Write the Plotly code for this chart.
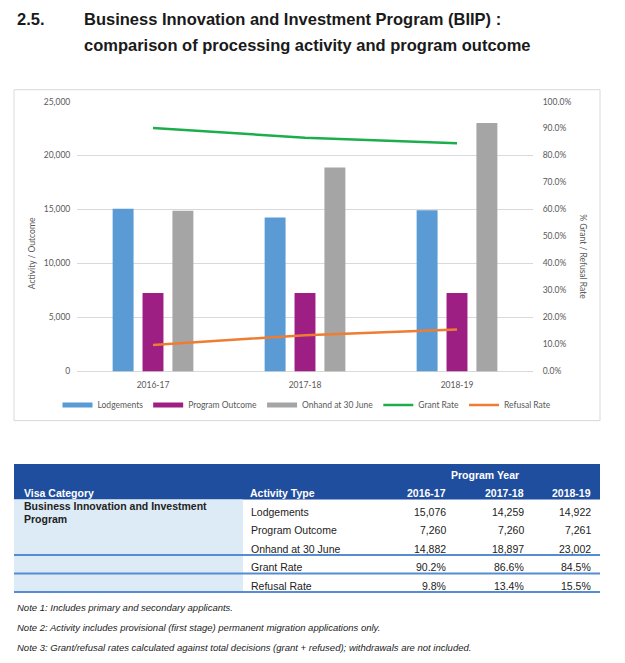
import plotly.graph_objects as go

W, H = 625, 663

# ---------------- data ----------------
years = ["2016-17", "2017-18", "2018-19"]
lodgements = [15076, 14259, 14922]
program_outcome = [7260, 7260, 7261]
onhand_30_june = [14882, 18897, 23002]
grant_rate = [90.2, 86.6, 84.5]
refusal_rate = [9.8, 13.4, 15.5]

bar_names = ["Lodgements", "Program Outcome", "Onhand at 30 June"]
line_names = ["Grant Rate", "Refusal Rate"]
left_ticks = [0, 5000, 10000, 15000, 20000, 25000]
right_ticks = [0, 10, 20, 30, 40, 50, 60, 70, 80, 90, 100]

visa_category = ["Business Innovation and Investment", "Program"]
activity_types = ["Lodgements", "Program Outcome", "Onhand at 30 June", "Grant Rate", "Refusal Rate"]
notes = [
    "Note 1: Includes primary and secondary applicants.",
    "Note 2: Activity includes provisional (first stage) permanent migration applications only.",
    "Note 3: Grant/refusal rates calculated against total decisions (grant + refused); withdrawals are not included.",
]
title_num = "2.5."
title_lines = ["Business Innovation and Investment Program (BIIP) :",
               "comparison of processing activity and program outcome"]

# ---------------- style ----------------
bar_colors = ["#5B9BD5", "#9E1F84", "#A5A5A5"]
line_colors = ["#1DAE4C", "#ED7D31"]
axis_font = dict(family="Lato", size=8.5, color="#595959")
grid_col = "#D9D9D9"
hdr_blue = "#1F4E9E"
rule_blue = "#548DD4"
cell_blue = "#DDEBF7"


def px(x):
    return x / W


def py(y):
    return 1 - y / H


fig = go.Figure()
bar_values = [lodgements, program_outcome, onhand_30_june]
for name, vals, col in zip(bar_names, bar_values, bar_colors):
    fig.add_trace(go.Bar(x=years, y=vals, name=name, marker_color=col,
                         marker_line_width=0, showlegend=False, yaxis="y"))
# legend keys (thick lines like the Excel legend)
for name, col in zip(bar_names, bar_colors):
    fig.add_trace(go.Scatter(x=[None], y=[None], mode="lines", name=name,
                             line=dict(color=col, width=5), yaxis="y"))
for name, vals, col in zip(line_names, [grant_rate, refusal_rate], line_colors):
    fig.add_trace(go.Scatter(x=years, y=vals, name=name, mode="lines",
                             line=dict(color=col, width=2.5), yaxis="y2"))

shapes = []
annotations = []

# chart frame
shapes.append(dict(type="rect", xref="paper", yref="paper", x0=px(14), x1=px(600),
                   y0=py(422), y1=py(86), line=dict(color=grid_col, width=1),
                   layer="below"))

# axis titles
annotations.append(dict(text="Activity / Outcome", xref="paper", yref="paper",
                        x=px(32), y=py(252), textangle=-90, showarrow=False,
                        font=axis_font, xanchor="center", yanchor="middle"))
annotations.append(dict(text="% Grant / Refusal Rate", xref="paper", yref="paper",
                        x=px(583), y=py(255), textangle=90, showarrow=False,
                        font=axis_font, xanchor="center", yanchor="middle"))

# title
tfont = dict(family="Liberation Sans", size=16.5, color="#1a1a1a")
title_y = [14, 41]
annotations.append(dict(text="<b>%s</b>" % title_num, xref="paper", yref="paper",
                        x=px(15), y=py(title_y[0]), xanchor="left", yanchor="middle",
                        showarrow=False, font=tfont))
for t, ty in zip(title_lines, title_y):
    annotations.append(dict(text="<b>%s</b>" % t, xref="paper", yref="paper",
                            x=px(82), y=py(ty), xanchor="left",
                            yanchor="middle", showarrow=False, font=tfont))

# ---------------- table ----------------
tx0, tx1 = 14, 600
hdr_top, hdr_bot = 466, 502
row_h = (596 - 502) / 5
shapes.append(dict(type="rect", xref="paper", yref="paper", x0=px(tx0), x1=px(tx1),
                   y0=py(hdr_bot), y1=py(hdr_top), fillcolor=hdr_blue, line_width=0))
shapes.append(dict(type="rect", xref="paper", yref="paper", x0=px(tx0), x1=px(243),
                   y0=py(596), y1=py(hdr_bot), fillcolor=cell_blue, line_width=0))
for r in [2, 3, 4]:
    yb = hdr_bot + row_h * (r + 1)
    shapes.append(dict(type="line", xref="paper", yref="paper", x0=px(tx0), x1=px(tx1),
                       y0=py(yb), y1=py(yb), line=dict(color=rule_blue, width=2)))

hfont = dict(family="Liberation Sans", size=10.5, color="white")
bfont = dict(family="Liberation Sans", size=10.5, color="#222222")
col_right = [448, 526, 593]
annotations.append(dict(text="<b>Program Year</b>", xref="paper", yref="paper",
                        x=px(485), y=py(477), xanchor="center", yanchor="middle",
                        showarrow=False, font=hfont))
annotations.append(dict(text="<b>Visa Category</b>", xref="paper", yref="paper",
                        x=px(22), y=py(495), xanchor="left", yanchor="middle",
                        showarrow=False, font=hfont))
annotations.append(dict(text="<b>Activity Type</b>", xref="paper", yref="paper",
                        x=px(248), y=py(495), xanchor="left", yanchor="middle",
                        showarrow=False, font=hfont))
for yr, xr in zip(years, col_right):
    annotations.append(dict(text="<b>%s</b>" % yr, xref="paper", yref="paper",
                            x=px(xr), y=py(495), xanchor="right", yanchor="middle",
                            showarrow=False, font=hfont))
for i, t in enumerate(visa_category):
    annotations.append(dict(text="<b>%s</b>" % t, xref="paper", yref="paper",
                            x=px(22), y=py(509 + 13 * i), xanchor="left",
                            yanchor="middle", showarrow=False, font=bfont))

table_rows = [
    ["{:,}".format(v) for v in lodgements],
    ["{:,}".format(v) for v in program_outcome],
    ["{:,}".format(v) for v in onhand_30_june],
    ["{:.1f}%".format(v) for v in grant_rate],
    ["{:.1f}%".format(v) for v in refusal_rate],
]
for r, (act, cells) in enumerate(zip(activity_types, table_rows)):
    yc = hdr_bot + row_h * (r + 1) - 6.2
    annotations.append(dict(text=act, xref="paper", yref="paper", x=px(249), y=py(yc),
                            xanchor="left", yanchor="middle", showarrow=False, font=bfont))
    for c, xr in zip(cells, col_right):
        annotations.append(dict(text=c, xref="paper", yref="paper", x=px(xr), y=py(yc),
                                xanchor="right", yanchor="middle", showarrow=False,
                                font=bfont))

nfont = dict(family="Liberation Sans", size=9.5, color="#222222")
for i, n in enumerate(notes):
    annotations.append(dict(text="<i>%s</i>" % n, xref="paper", yref="paper",
                            x=px(15), y=py(612 + 20 * i), xanchor="left",
                            yanchor="middle", showarrow=False, font=nfont))

fig.update_layout(
    width=W, height=H,
    margin=dict(l=0, r=0, t=0, b=0),
    paper_bgcolor="white", plot_bgcolor="white",
    barmode="group", bargap=0.41, bargroupgap=0.3,
    font=axis_font,
    xaxis=dict(domain=[px(77), px(533)], type="category", showgrid=False,
               showline=False, ticks="outside", ticklen=5,
               tickcolor="rgba(0,0,0,0)", tickfont=axis_font, fixedrange=True),
    yaxis=dict(domain=[py(372), py(98)], range=[0, 25000], tickvals=left_ticks,
               tickformat=",", showgrid=True, gridcolor=grid_col, gridwidth=1,
               zeroline=True, zerolinecolor=grid_col, zerolinewidth=1,
               ticks="outside", ticklen=4, tickcolor="rgba(0,0,0,0)",
               tickfont=axis_font, showline=False),
    yaxis2=dict(overlaying="y", side="right", range=[0, 100], tickmode="array",
                tickvals=right_ticks,
                ticktext=["{:.1f}%".format(v) for v in right_ticks],
                showgrid=False, zeroline=False,
                ticks="outside", ticklen=7, tickcolor="rgba(0,0,0,0)",
                tickfont=axis_font, showline=False),
    legend=dict(orientation="h", x=px(307), xanchor="center", y=py(406),
                yanchor="middle", font=axis_font, bgcolor="rgba(0,0,0,0)",
                itemwidth=30, traceorder="normal"),
    shapes=shapes,
    annotations=annotations,
)

fig.write_html("out.html",
               config={"displayModeBar": False},
               post_script="document.body.style.margin='0';"
                           "document.body.style.overflow='hidden';")
